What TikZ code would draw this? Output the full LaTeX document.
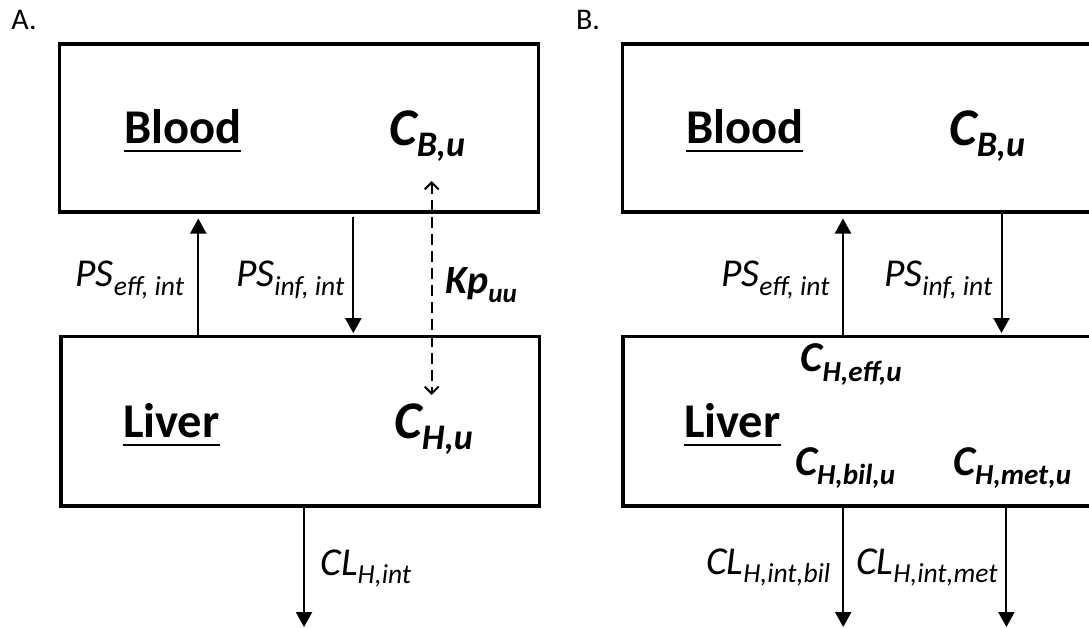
\documentclass[tikz,border=0pt]{standalone}
\usepackage{fontspec}
\setmainfont{Carlito}
\usetikzlibrary{arrows.meta}
\newcommand\fs[1]{\fontsize{#1}{#1}\selectfont}
\newcommand\sbs[2]{\raisebox{-0.22em}{\fs{#1}#2}}
\newcommand\ulin[1]{\setbox0\hbox{#1}\rlap{\rule[-9pt]{\wd0}{2pt}}\box0}
\tikzset{
  compbox/.style={draw, line width=3.5pt, inner sep=0pt},
  txt/.style={anchor=base west, inner sep=0pt, outer sep=0pt},
  panel/.style={txt, font=\fs{30pt}},
  comp/.style={txt, font=\fs{48.5pt}\bfseries},
  bigc/.style={txt, font=\fs{53pt}\bfseries\itshape},
  midc/.style={txt, font=\fs{42.5pt}\bfseries\itshape},
  flux/.style={txt, font=\fs{39.5pt}\itshape},
  kp/.style={txt, font=\fs{40pt}\bfseries\itshape},
  arr/.style={line width=2pt, -{Triangle[length=15pt,width=16pt]}},
  dsh/.style={line width=2pt, dash pattern=on 11pt off 6pt,
     {Straight Barb[length=7pt,width=14pt]}-{Straight Barb[length=7pt,width=14pt]}}
}
\begin{document}
\begin{tikzpicture}[x=1pt,y=-1pt]
\useasboundingbox (0,0) rectangle (1089,627);
\clip (0,0) rectangle (1089,627);
% panel labels
\node[panel] (pa) at (11.5,29.3) {A.};
\node[panel] (pb) at (576,29.3) {B.};
% boxes
\node[compbox, minimum width=479pt, minimum height=167.7pt] (bA) at (298.8,127.9) {};
\node[compbox, minimum width=478.5pt, minimum height=169.3pt] (lA) at (300.3,421.3) {};
\node[compbox, minimum width=498pt, minimum height=167.7pt] (bB) at (871.3,127.9) {};
\node[compbox, minimum width=497pt, minimum height=169.5pt] (lB) at (871.5,421.3) {};
% panel A texts
\node[comp] (blA) at (124,143.3) {\ulin{Blood}};
\node[comp] (liA) at (123,437) {\ulin{Liver}};
\node[bigc] (cBA) at (389.5,145) {C\sbs{36pt}{B,u}};
\node[bigc] (cHA) at (394.5,438.3) {C\sbs{36pt}{H,u}};
\node[flux] (psEA) at (75.5,286.7) {PS\sbs{27.5pt}{eff, int}};
\node[flux] (psIA) at (236,286.7) {PS\sbs{27.5pt}{inf, int}};
\node[kp] (kpA) at (445.5,293.3) {Kp\sbs{27pt}{uu}};
\node[flux] (clA) at (320.5,575) {CL\sbs{27.5pt}{H,int}};
% panel B texts
\node[comp] (blB) at (686,143.3) {\ulin{Blood}};
\node[comp] (liB) at (684,437) {\ulin{Liver}};
\node[bigc] (cBB) at (949.5,145) {C\sbs{36pt}{B,u}};
\node[midc] (cHeB) at (800.5,371.7) {C\sbs{29pt}{H,eff,u}};
\node[midc] (cHbB) at (795,475) {C\sbs{29pt}{H,bil,u}};
\node[midc] (cHmB) at (953,475) {C\sbs{29pt}{H,met,u}};
\node[flux] (psEB) at (721,286.7) {PS\sbs{27.5pt}{eff, int}};
\node[flux] (psIB) at (884,286.7) {PS\sbs{27.5pt}{inf, int}};
\node[flux] (clbB) at (706,574) {CL\sbs{27.5pt}{H,int,bil}};
\node[flux] (clmB) at (856,574) {CL\sbs{27.5pt}{H,int,met}};
% x positions of connectors
\coordinate (eA) at (198.3,0);
\coordinate (iA) at (353.3,0);
\coordinate (kt) at (431.7,181);
\coordinate (kb) at (431.7,395);
\coordinate (oA) at (304,627);
\coordinate (eB) at (843,0);
\coordinate (iB) at (1001.5,0);
\coordinate (obB) at (843.2,627);
\coordinate (omB) at (1006.4,627);
% panel A connectors
\draw[arr, shorten >=5pt] (eA |- lA.north) -- (eA |- bA.south);
\draw[arr, shorten <=3.5pt, shorten >=1.75pt] (iA |- bA.south) -- (iA |- lA.north);
\draw[dsh] (kt) -- (kb);
\draw[arr] (oA |- lA.south) -- (oA);
% panel B connectors
\draw[arr, shorten >=5pt] (eB |- lB.north) -- (eB |- bB.south);
\draw[arr, shorten >=1.75pt] (iB |- bB.south) -- (iB |- lB.north);
\draw[arr] (obB |- lB.south) -- (obB);
\draw[arr] (omB |- lB.south) -- (omB);
\end{tikzpicture}
\end{document}
